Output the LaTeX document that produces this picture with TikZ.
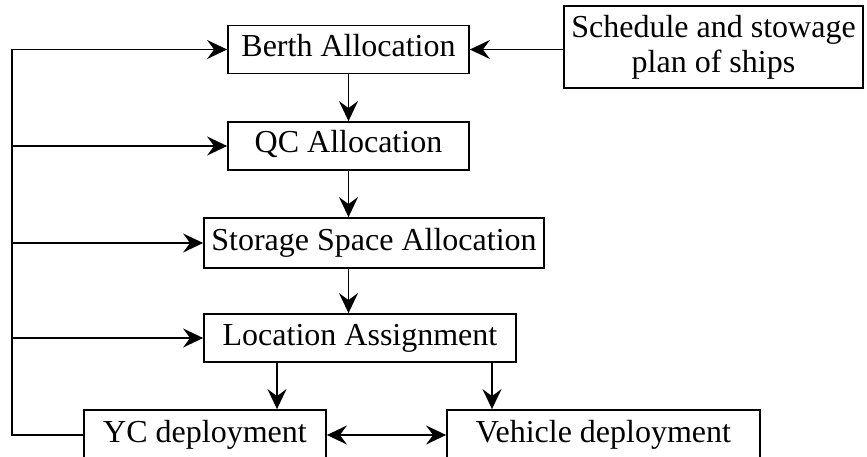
\documentclass[tikz,border=0pt]{standalone}
\usepackage{fontspec}
\setmainfont{Liberation Serif}
\usetikzlibrary{arrows.meta}
\begin{document}
\begin{tikzpicture}[x=1pt,y=-1pt,
  plainbox/.style={draw,line width=1.8pt,inner sep=0pt,
    font=\fontsize{32}{35}\selectfont},
  box/.style={plainbox,minimum height=48pt,text height=22pt,text depth=8pt},
  conn/.style={line width=1.7pt,-{Stealth[length=20pt,width=19pt,inset=7pt]}},
  both/.style={line width=1.7pt,{Stealth[length=20pt,width=19pt,inset=7pt]}-{Stealth[length=20pt,width=19pt,inset=7pt]}}]
\useasboundingbox (0,0) rectangle (867,457);
\clip (0,0) rectangle (867,457);
\node[box,minimum width=241pt] (berth) at (348.5,49.5) {Berth Allocation};
\node[box,minimum width=241pt] (qc) at (348.5,146) {QC Allocation};
\node[box,minimum width=340pt,minimum height=50pt] (stor) at (374,243) {Storage Space Allocation};
\node[box,minimum width=312pt] (loc) at (360,338) {Location Assignment};
\node[box,minimum width=242pt,minimum height=50pt] (yc) at (205,435) {YC deployment};
\node[box,minimum width=313pt,minimum height=50pt] (veh) at (603.5,435) {Vehicle deployment};
\node[plainbox,minimum width=299pt,minimum height=82pt,align=center] (sched) at (713.5,47) {Schedule and stowage\\plan of ships};
\coordinate (lx) at (12,0);
\coordinate (ca) at (277,0);
\coordinate (cb) at (492,0);
\draw[conn] (sched.west |- berth.east) -- (berth.east);
\draw[conn] (berth.south) -- (qc.north);
\draw[conn] (qc.south) -- (stor.north -| qc.south);
\draw[conn] (stor.south -| qc.south) -- (loc.north -| qc.south);
\draw[conn] (loc.south -| ca) -- (yc.north -| ca);
\draw[conn] (loc.south -| cb) -- (veh.north -| cb);
\draw[both] (yc.east) -- (veh.west);
\draw[line width=1.7pt] (yc.west) -- (yc.west -| lx) -- (berth.west -| lx);
\draw[conn] (berth.west -| lx) -- (berth.west);
\draw[conn] (qc.west -| lx) -- (qc.west);
\draw[conn] (stor.west -| lx) -- (stor.west);
\draw[conn] (loc.west -| lx) -- (loc.west);
\end{tikzpicture}
\end{document}
